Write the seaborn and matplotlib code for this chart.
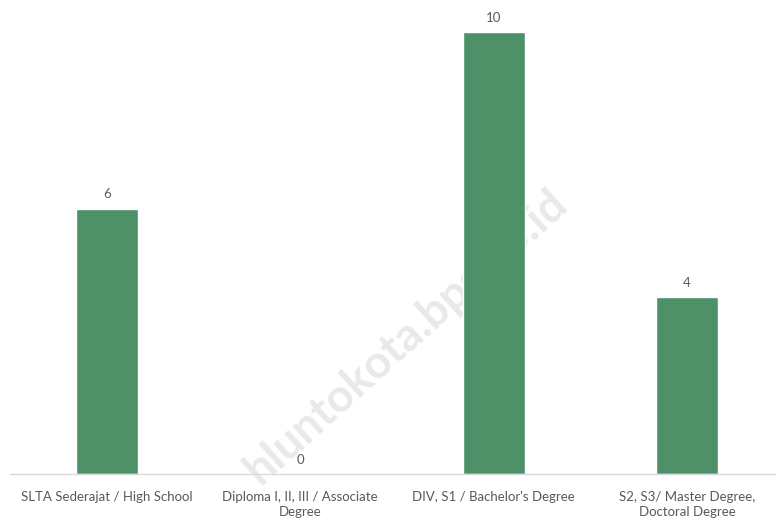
import matplotlib
matplotlib.use("Agg")
import matplotlib.pyplot as plt
import seaborn as sns
import pandas as pd

# data
categories = [
    "SLTA Sederajat / High School",
    "Diploma I, II, III / Associate\nDegree",
    "DIV, S1 / Bachelor's Degree",
    "S2, S3/ Master Degree,\nDoctoral Degree",
]
values = [6, 0, 10, 4]

BAR_COLOR = "#4e9168"
TEXT_COLOR = "#595959"

sns.set_style("white")
plt.rcParams["font.family"] = ["Lato", "DejaVu Sans"]

df = pd.DataFrame({"cat": categories, "val": values})

fig = plt.figure(figsize=(7.76, 5.2), dpi=100)
ax = fig.add_axes([0, 1 - 474 / 520, 1, 474 / 520])

sns.barplot(data=df, x="cat", y="val", color=BAR_COLOR, width=0.32,
            saturation=1, ax=ax, zorder=2)

# layout: category spacing ~193px, first centre at ~107px
step = 193.3
ax.set_xlim(-107 / step, (776 - 107) / step)
ax.set_ylim(0, 474 / 44.2)

for c in ax.containers:
    ax.bar_label(c, padding=6, fontsize=9.5, color=TEXT_COLOR)

for s in ["top", "left", "right"]:
    ax.spines[s].set_visible(False)
ax.spines["bottom"].set_color("#d9d9d9")
ax.spines["bottom"].set_linewidth(1)
ax.spines["bottom"].set_bounds(-97 / step, (776 - 107) / step)

ax.set_yticks([])
ax.set_xlabel("")
ax.set_ylabel("")
ax.tick_params(axis="x", length=0, pad=12, labelsize=9.5, labelcolor=TEXT_COLOR)
for lbl in ax.get_xticklabels():
    lbl.set_linespacing(1.35)

# faint watermark behind the bars
ax.set_zorder(1)
ax.patch.set_alpha(0)
fig.text(406 / 776, 1 - 337 / 520, "hluntokota.bps.go.id", rotation=42,
         ha="center", va="center", fontsize=33, fontweight="bold",
         color="#e9e9e9", zorder=0)

fig.savefig("out.png", dpi=100)
plt.close(fig)
